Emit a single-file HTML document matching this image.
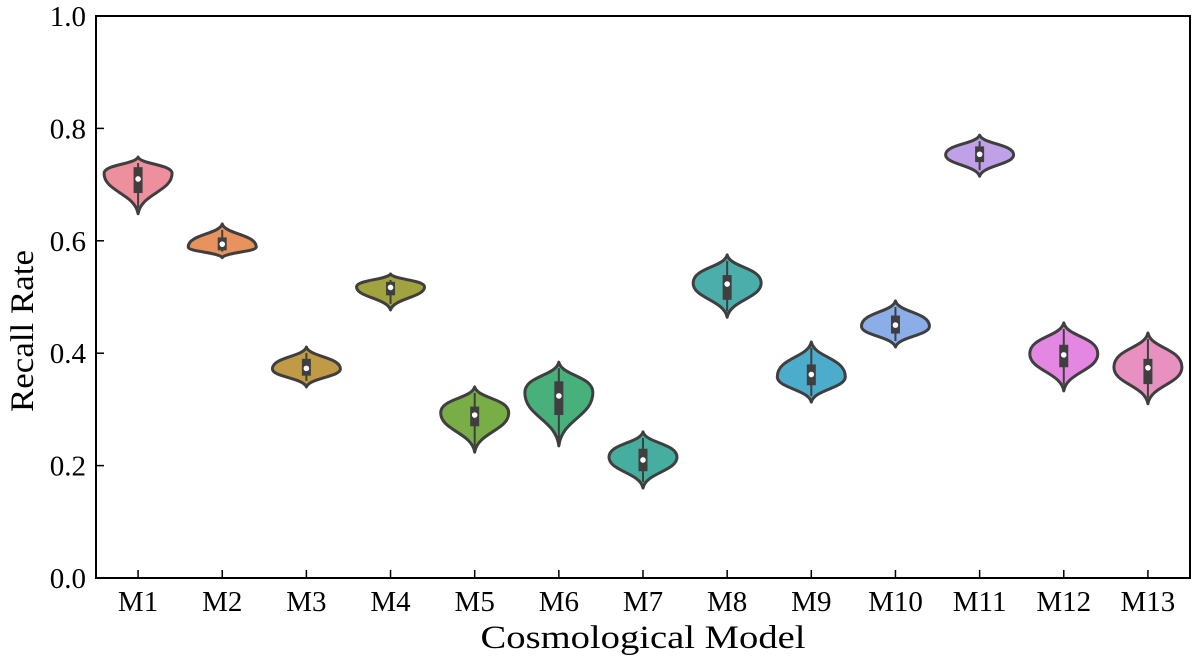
<!DOCTYPE html>
<html><head><meta charset="utf-8"><style>
body{margin:0;background:#fff;}
svg text{font-family:"Liberation Serif",serif;fill:#000;}
</style></head><body>
<svg id="chart" width="1200" height="667"></svg>
<script>
const categories=["M1","M2","M3","M4","M5","M6","M7","M8","M9","M10","M11","M12","M13"];
const maxVals=[0.749,0.630,0.411,0.541,0.340,0.384,0.260,0.575,0.420,0.493,0.788,0.454,0.436];
const modeVals=[0.720,0.589,0.372,0.518,0.294,0.330,0.215,0.525,0.358,0.448,0.753,0.399,0.375];
const minVals=[0.648,0.570,0.340,0.477,0.224,0.235,0.160,0.464,0.313,0.411,0.715,0.333,0.310];
const medians=[0.710,0.594,0.373,0.517,0.290,0.324,0.210,0.523,0.362,0.450,0.754,0.397,0.374];
const q3s=[0.731,0.606,0.390,0.527,0.305,0.350,0.230,0.539,0.380,0.467,0.768,0.415,0.390];
const q1s=[0.685,0.583,0.360,0.503,0.270,0.290,0.190,0.495,0.343,0.435,0.740,0.375,0.345];
const colors=["#ee8f9d","#e8935e","#c09a45","#a1a33f","#79ad45","#48b07a","#45ae9e","#4baeab","#4daccc","#8caee8","#c0a1e8","#e487e2","#e890c0"];
const yTicks=[0,0.2,0.4,0.6,0.8,1.0];
const NS="http://www.w3.org/2000/svg";
const svg=document.getElementById('chart');
const L=96,R=1190,T=16,B=578;
const step=(R-L)/categories.length;
const x=i=>L+step*(i+0.5);
const y=v=>B-(B-T)*v;
function mk(tag,attrs,parent){const e=document.createElementNS(NS,tag);for(const k in attrs)e.setAttribute(k,attrs[k]);(parent||svg).appendChild(e);return e;}
const hw=34;
categories.forEach((c,i)=>{
  const g=mk('g',{});
  
  
  const cx=x(i),ty=y(maxVals[i]),wy=y(modeVals[i]),by=y(minVals[i]);
  const a=wy-ty,b=by-wy;
  const d=`M${cx},${ty} C${cx+3},${ty+a*0.45} ${cx+hw},${wy-a*0.55} ${cx+hw},${wy} C${cx+hw},${wy+b*0.45} ${cx+3},${by-b*0.5} ${cx},${by} C${cx-3},${by-b*0.5} ${cx-hw},${wy+b*0.45} ${cx-hw},${wy} C${cx-hw},${wy-a*0.55} ${cx-3},${ty+a*0.45} ${cx},${ty} Z`;
  const p=mk('path',{d:d,fill:colors[i],stroke:'#3f3f3f','stroke-width':3,'stroke-linejoin':'round'},g);
  
  
  const w=mk('line',{x1:cx,x2:cx,y1:y(maxVals[i])+6,y2:y(minVals[i])-6,stroke:'#3f3f3f','stroke-width':2},g);
  
  
  const bx=mk('rect',{x:cx-4.5,y:y(q3s[i]),width:9,height:y(q1s[i])-y(q3s[i]),fill:'#3f3f3f'},g);
  
  
  const m=mk('circle',{cx:cx,cy:y(medians[i]),r:2.8,fill:'#fff'},g);
  
  
  const t=mk('line',{x1:cx,x2:cx,y1:B,y2:B-8,stroke:'#000','stroke-width':1.5});
  
  
  const tl=mk('text',{x:cx,y:611,'text-anchor':'middle','font-size':29});
  tl.textContent=c;
  
  
});
yTicks.forEach(v=>{
  const t=mk('line',{x1:L,x2:L+8,y1:y(v),y2:y(v),stroke:'#000','stroke-width':1.5});
  
  
  const tl=mk('text',{x:86,y:y(v)+10,'text-anchor':'end','font-size':29});
  tl.textContent=v.toFixed(1);
  
  
});
const fr=mk('rect',{x:L,y:T,width:R-L,height:B-T,fill:'none',stroke:'#000','stroke-width':2});


const xt=mk('text',{x:(L+R)/2,y:648,'text-anchor':'middle','font-size':33,textLength:325,lengthAdjust:'spacingAndGlyphs'});
xt.textContent='Cosmological Model';


const yt=mk('text',{x:0,y:0,'text-anchor':'middle','font-size':33,textLength:162,lengthAdjust:'spacingAndGlyphs',transform:'translate(33,331) rotate(-90)'});
yt.textContent='Recall Rate';


</script>
</body></html>
